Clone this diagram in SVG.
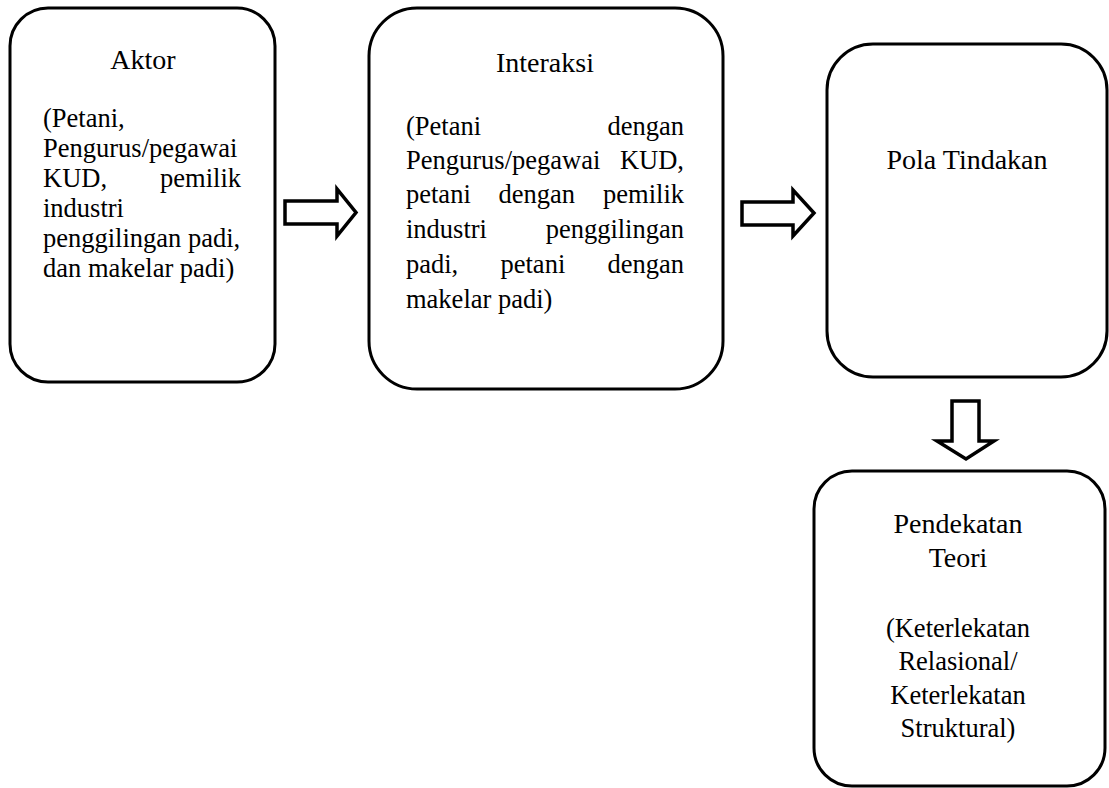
<svg xmlns="http://www.w3.org/2000/svg" width="1109" height="788" viewBox="0 0 1109 788">
<style>
.box{fill:#fff;stroke:#000;stroke-width:3}
.arr{fill:#fff;stroke:#000;stroke-width:3.5;stroke-linejoin:miter}
text{font-family:"Liberation Serif","Times New Roman",serif;fill:#000}
.t{font-size:28px}
.b{font-size:26.5px}
.c{text-anchor:middle}
.e{text-anchor:end}
</style>
<rect width="1109" height="788" fill="#fff"/>
<g id="aktor">
<rect class="box" x="10" y="8" width="265" height="374" rx="38" ry="38"/>
<text class="t c" x="143" y="69">Aktor</text>
<text class="b" x="43" y="127">(Petani,</text>
<text class="b" x="43" y="157">Pengurus/pegawai</text>
<text class="b" x="43" y="187">KUD,</text>
<text class="b e" x="241" y="187">pemilik</text>
<text class="b" x="43" y="217">industri</text>
<text class="b" x="43" y="247">penggilingan padi,</text>
<text class="b" x="43" y="277">dan makelar padi)</text>
</g>
<g id="interaksi">
<rect class="box" x="369" y="8" width="354" height="381" rx="48" ry="48"/>
<text class="t c" x="545" y="72">Interaksi</text>
<text class="b" x="406" y="135">(Petani</text>
<text class="b e" x="684" y="135">dengan</text>
<text class="b" x="406" y="169">Pengurus/pegawai</text>
<text class="b e" x="684" y="169">KUD,</text>
<text class="b" x="406" y="203">petani</text>
<text class="b" x="498.6" y="203">dengan</text>
<text class="b e" x="684" y="203">pemilik</text>
<text class="b" x="406" y="238">industri</text>
<text class="b e" x="684" y="238">penggilingan</text>
<text class="b" x="406" y="273">padi,</text>
<text class="b" x="500.5" y="273">petani</text>
<text class="b e" x="684" y="273">dengan</text>
<text class="b" x="406" y="308">makelar padi)</text>
</g>
<g id="pola-tindakan">
<rect class="box" x="827" y="44" width="280" height="333" rx="46" ry="46"/>
<text class="t c" x="967" y="169">Pola Tindakan</text>
</g>
<g id="pendekatan-teori">
<rect class="box" x="814" y="471" width="291" height="315" rx="38" ry="38"/>
<text class="t c" x="958" y="533">Pendekatan</text>
<text class="t c" x="958" y="567">Teori</text>
<text class="b c" x="958" y="637">(Keterlekatan</text>
<text class="b c" x="958" y="670">Relasional/</text>
<text class="b c" x="958" y="704">Keterlekatan</text>
<text class="b c" x="958" y="737">Struktural)</text>
</g>
<g id="connectors">
<polygon class="arr" points="285,201 337,201 337,189 356,212.5 337,236 337,224 285,224"/>
<polygon class="arr" points="742,202 793,202 793,190 814,213 793,236 793,225 742,225"/>
<polygon class="arr" points="952,401 979,401 979,441 994,441 966,459 937,441 952,441"/>
</g>
</svg>
